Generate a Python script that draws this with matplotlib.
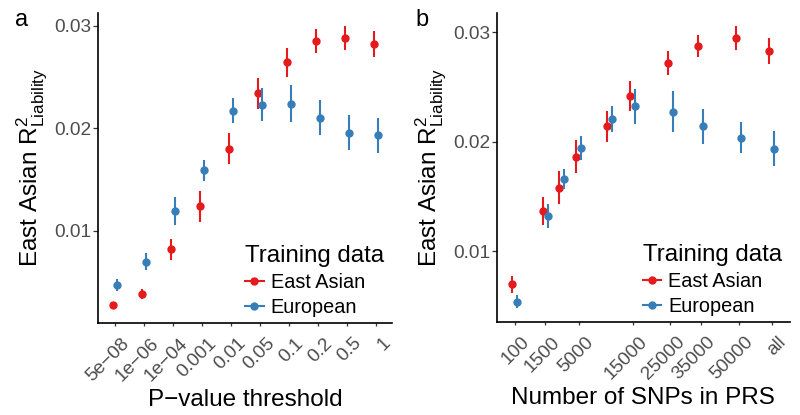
import numpy as np
import matplotlib
matplotlib.use("Agg")
import matplotlib.pyplot as plt
from matplotlib.lines import Line2D
from matplotlib.ticker import NullLocator
from matplotlib.transforms import ScaledTranslation

plt.rcParams["font.family"] = ["Liberation Sans", "DejaVu Sans"]
plt.rcParams["mathtext.fontset"] = "custom"
plt.rcParams["mathtext.rm"] = "Liberation Sans"

RED = "#E41A1C"
BLUE = "#377EB8"
TICK_GREY = "#4D4D4D"

# panel a: P-value threshold
p_thresholds = ["5e\u221208", "1e\u221206", "1e\u221204", "0.001", "0.01",
                "0.05", "0.1", "0.2", "0.5", "1"]
a_eas_r2 = [0.00278, 0.00385, 0.0082, 0.0124, 0.0180, 0.0234, 0.0264, 0.0285, 0.0288, 0.0282]
a_eas_err = [0.0003, 0.0005, 0.0010, 0.0015, 0.0015, 0.0015, 0.0014, 0.0012, 0.0012, 0.0013]
a_eur_r2 = [0.00473, 0.0070, 0.0119, 0.0159, 0.0217, 0.0223, 0.0224, 0.0210, 0.01955, 0.0193]
a_eur_err = [0.00055, 0.00085, 0.00135, 0.0010, 0.0012, 0.0016, 0.0018, 0.0017, 0.0017, 0.0017]

# panel b: number of SNPs ("all" placed at ~65000)
snp_counts = [100, 1500, 3000, 5000, 10000, 15000, 25000, 35000, 50000, 65000]
snp_ticks = [100, 1500, 5000, 15000, 25000, 35000, 50000, 65000]
snp_tick_labels = ["100", "1500", "5000", "15000", "25000", "35000", "50000", "all"]
b_eas_r2 = [0.00696, 0.01368, 0.0158, 0.0186, 0.0214, 0.02416, 0.02714, 0.02872, 0.02942, 0.02826]
b_eas_err = [0.0008, 0.0013, 0.0015, 0.0015, 0.0014, 0.0014, 0.0011, 0.0010, 0.0011, 0.0012]
b_eur_r2 = [0.00537, 0.01323, 0.01658, 0.01944, 0.02203, 0.02324, 0.02274, 0.0214, 0.02035, 0.01934]
b_eur_err = [0.0006, 0.0011, 0.0009, 0.0011, 0.0012, 0.0016, 0.0019, 0.0016, 0.0014, 0.0016]

groups = ["East Asian", "European"]


def _pointrange(fig, ax, x, y, err, color, dx_px):
    tr = ax.transData + ScaledTranslation(dx_px / fig.dpi, 0, fig.dpi_scale_trans)
    y = np.asarray(y)
    err = np.asarray(err)
    ax.vlines(x, y - err, y + err, color=color, lw=1.5, transform=tr)
    ax.plot(x, y, "o", color=color, ms=5, transform=tr, ls="none")


def _style(fig, ax, xlabel):
    for s in ("top", "right"):
        ax.spines[s].set_visible(False)
    for s in ("left", "bottom"):
        ax.spines[s].set_linewidth(1.2)
    ax.tick_params(axis="both", length=3.5, width=0.9, color="#333333",
                   labelcolor=TICK_GREY, labelsize=13.7)
    ax.tick_params(axis="y", pad=1.5)
    ax.tick_params(axis="x", labelrotation=45, length=2.5, pad=3)
    # nudge the rotated labels like ggplot's hjust/vjust = 1
    shift = ScaledTranslation(6 / fig.dpi, -4 / fig.dpi, fig.dpi_scale_trans)
    for lab in ax.get_xticklabels():
        lab.set_ha("right")
        lab.set_rotation_mode("anchor")
        lab.set_transform(lab.get_transform() + shift)
    ax.set_xlabel(xlabel, fontsize=17.5, labelpad=3)
    ax.set_ylabel(r"East Asian R$^{2}_{\mathrm{Liability}}$", fontsize=17.5, labelpad=3)
    ax.set_yticks([0.01, 0.02, 0.03])
    ax.set_yticklabels(["0.01", "0.02", "0.03"])
    handles = [Line2D([], [], color=RED, marker="o", ms=5, lw=1.5),
               Line2D([], [], color=BLUE, marker="o", ms=5, lw=1.5)]
    ax.legend(handles, groups, title="Training data", loc="lower right",
              bbox_to_anchor=(1.02, -0.025), frameon=False, fontsize=14.3,
              title_fontsize=17.3, handlelength=0.95, handletextpad=0.35,
              labelspacing=0.3, alignment="left", borderaxespad=0.3)


fig = plt.figure(figsize=(8, 4.15), dpi=100)
ax_a = fig.add_axes([0.1225, 0.2217, 0.3675, 0.747])
ax_b = fig.add_axes([0.62125, 0.224, 0.366, 0.7446])

# panel a
xa = np.arange(len(p_thresholds))
_pointrange(fig, ax_a, xa, a_eas_r2, a_eas_err, RED, -2.3)
_pointrange(fig, ax_a, xa, a_eur_r2, a_eur_err, BLUE, 2.3)
ax_a.set_xticks(xa)
ax_a.set_xticklabels(p_thresholds)
ax_a.set_xlim(-0.59, 9.55)
ax_a.set_ylim(0.00102, 0.03122)
_style(fig, ax_a, "P\u2212value threshold")


# panel b (square-root x scale)
def _fwd(x):
    x = np.asarray(x, dtype=float)
    return np.sign(x) * np.sqrt(np.abs(x))


def _inv(y):
    y = np.asarray(y, dtype=float)
    return np.sign(y) * y ** 2


ax_b.set_xscale("function", functions=(_fwd, _inv))
_pointrange(fig, ax_b, snp_counts, b_eas_r2, b_eas_err, RED, -2.5)
_pointrange(fig, ax_b, snp_counts, b_eur_r2, b_eur_err, BLUE, 2.5)
ax_b.set_xticks(snp_ticks)
ax_b.set_xticklabels(snp_tick_labels)
ax_b.xaxis.set_minor_locator(NullLocator())
ax_b.set_xlim(-51, 74100)
ax_b.set_ylim(0.003516, 0.03174)
_style(fig, ax_b, "Number of SNPs in PRS")

fig.text(15 / 800, 1 - 20 / 415, "a", fontsize=17, va="center", ha="left")
fig.text(415 / 800, 1 - 20 / 415, "b", fontsize=17, va="center", ha="left")

fig.savefig("out.png", dpi=100)
